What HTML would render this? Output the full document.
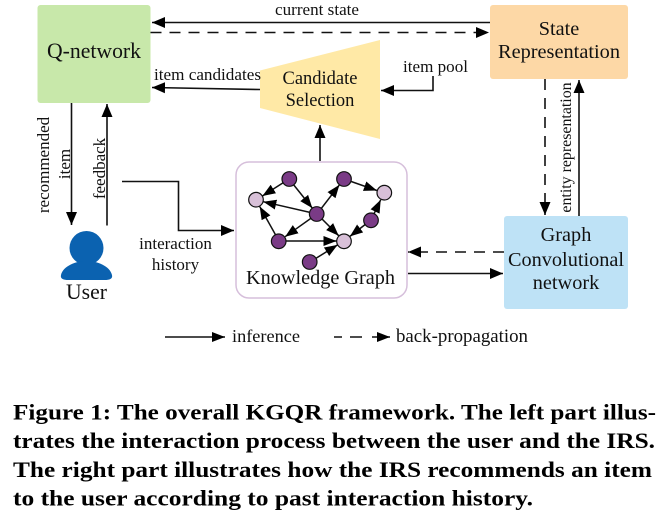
<!DOCTYPE html>
<html><head><meta charset="utf-8">
<style>
html,body{margin:0;padding:0;background:#fff;width:662px;height:518px;overflow:hidden}
svg{display:block}
text{font-family:"Liberation Serif",serif;fill:#111}
.c{text-anchor:middle}
.l{stroke:#111;stroke-width:1.6;fill:none}
.d{stroke:#111;stroke-width:1.6;fill:none;stroke-dasharray:11 8}
.k{stroke:#111;stroke-width:1.5;fill:none}
.cap{font-weight:bold;font-size:22px;fill:#000}
</style></head><body>
<svg width="662" height="518" viewBox="0 0 662 518" xmlns="http://www.w3.org/2000/svg">
<defs>
<marker id="a" markerUnits="userSpaceOnUse" markerWidth="14" markerHeight="12" refX="13" refY="6" orient="auto"><path d="M0 .5L13 6L0 11.5z" fill="#000"/></marker>
<marker id="s" markerUnits="userSpaceOnUse" markerWidth="14" markerHeight="12" refX="13" refY="5.500" orient="auto"><path d="M0 .5L13 5.500L0 10.500z" fill="#000"/></marker>
</defs>

<rect x="37.5" y="5" width="113" height="98" rx="3" fill="#c8e8aa"/>
<rect x="490" y="5" width="138" height="74" rx="3" fill="#fdd8a6"/>
<rect x="504" y="216" width="124" height="93" rx="3" fill="#bee2f6"/>
<rect x="236" y="162" width="171" height="136" rx="13" fill="#fff" stroke="#d6bfdb" stroke-width="1.5"/>
<polygon points="260,70.5 380,40 380,139 260,108" fill="#ffe9a6"/>

<path class="l" d="M490 22.5H152" marker-end="url(#a)"/>
<path class="d" d="M150.500 32.500H489" marker-end="url(#a)"/>
<path class="l" d="M260 89.500L152 87.500" marker-end="url(#a)"/>
<path class="l" d="M433 76V90.500H381" marker-end="url(#a)"/>
<path class="l" d="M320 161V125" marker-end="url(#a)"/>
<path class="l" d="M71.500 103V225" marker-end="url(#a)"/>
<path class="l" d="M107 225.500V104" marker-end="url(#a)"/>
<path class="l" d="M122 181.500H178.500V230.500H234" marker-end="url(#a)"/>
<path class="d" d="M504 252H408" marker-end="url(#a)"/>
<path class="l" d="M408 273.500H503" marker-end="url(#a)"/>
<path class="d" d="M545 79V215" marker-end="url(#a)"/>
<path class="l" d="M579 216V80" marker-end="url(#a)"/>
<path class="l" d="M165 337H225" marker-end="url(#s)"/>
<path class="l" d="M334 337H342M350 337H362M372 337H390" marker-end="url(#s)"/>

<g class="k">
<path d="M289 179L262.400 196" marker-end="url(#s)"/>
<path d="M289 179L312.300 208.100" marker-end="url(#s)"/>
<path d="M317 214L263.300 201.700" marker-end="url(#s)"/>
<path d="M317 214L339.400 184.900" marker-end="url(#s)"/>
<path d="M317 214L285.100 236.700" marker-end="url(#s)"/>
<path d="M317 214L338.700 235.700" marker-end="url(#s)"/>
<path d="M279 241L259.700 206.500" marker-end="url(#s)"/>
<path d="M279 241L336.500 241" marker-end="url(#s)"/>
<path d="M344 179L376.900 190.500" marker-end="url(#s)"/>
<path d="M371 220L380.700 199.800" marker-end="url(#s)"/>
<path d="M371 220L349.900 236.400" marker-end="url(#s)"/>
<path d="M310 262L337.600 244.900" marker-end="url(#s)"/>
</g>
<g stroke="#111" stroke-width="1.2">
<circle cx="289.300" cy="179" r="7.300" fill="#7a3b86"/>
<circle cx="344" cy="179" r="7.300" fill="#7a3b86"/>
<circle cx="316.700" cy="214" r="7.300" fill="#7a3b86"/>
<circle cx="371" cy="220.300" r="7.300" fill="#7a3b86"/>
<circle cx="278.700" cy="241.300" r="7.300" fill="#7a3b86"/>
<circle cx="309.700" cy="262" r="7.300" fill="#7a3b86"/>
<circle cx="256" cy="199.700" r="7.300" fill="#d8c0d8"/>
<circle cx="384.300" cy="192.700" r="7.300" fill="#d8c0d8"/>
<circle cx="344" cy="241.300" r="7.300" fill="#d8c0d8"/>
</g>

<circle cx="86.500" cy="248" r="17" fill="#0b62b0"/>
<path d="M61 275C63 266 76 261 86.500 261C97 261 110 266 112 275C113 279 109 280 105 280H68C64 280 60 279 61 275z" fill="#0b62b0"/>

<text x="47" y="58" font-size="21.700" textLength="94" lengthAdjust="spacingAndGlyphs">Q-network</text>
<text class="c" x="559" y="35" font-size="20.300">State</text>
<text x="498" y="58" font-size="20.300" textLength="122" lengthAdjust="spacingAndGlyphs">Representation</text>
<text class="c" x="320" y="84" font-size="18.500">Candidate</text>
<text class="c" x="320" y="106" font-size="18.500">Selection</text>
<text x="275" y="15" font-size="17" textLength="84" lengthAdjust="spacingAndGlyphs">current state</text>
<text x="154" y="80" font-size="17" textLength="107" lengthAdjust="spacingAndGlyphs">item candidates</text>
<text x="403" y="72" font-size="17" textLength="65" lengthAdjust="spacingAndGlyphs">item pool</text>
<text class="c" x="175.500" y="249" font-size="17">interaction</text>
<text class="c" x="175.500" y="270" font-size="17">history</text>
<text x="66" y="299" font-size="21.700" textLength="41" lengthAdjust="spacingAndGlyphs">User</text>
<text x="246" y="284" font-size="20.200" textLength="149" lengthAdjust="spacingAndGlyphs">Knowledge Graph</text>
<text class="c" x="566" y="241" font-size="20.300">Graph</text>
<text x="508" y="266" font-size="20.300" textLength="116" lengthAdjust="spacingAndGlyphs">Convolutional</text>
<text class="c" x="566" y="289" font-size="20.300">network</text>
<text class="c" transform="translate(49 165) rotate(-90)" font-size="17">recommended</text>
<text class="c" transform="translate(70 164) rotate(-90)" font-size="17">item</text>
<text class="c" transform="translate(105 168.500) rotate(-90)" font-size="17">feedback</text>
<text class="c" transform="translate(571 147.500) rotate(-90)" font-size="15.900">entity representation</text>
<text x="232" y="342" font-size="18.300" textLength="68" lengthAdjust="spacingAndGlyphs">inference</text>
<text x="396" y="342" font-size="18.800" textLength="132" lengthAdjust="spacingAndGlyphs">back-propagation</text>

<text class="cap" x="13" y="419.500" textLength="643" lengthAdjust="spacingAndGlyphs">Figure 1: The overall KGQR framework. The left part illus-</text>
<text class="cap" x="13" y="448" textLength="642" lengthAdjust="spacingAndGlyphs">trates the interaction process between the user and the IRS.</text>
<text class="cap" x="13" y="477" textLength="639" lengthAdjust="spacingAndGlyphs">The right part illustrates how the IRS recommends an item</text>
<text class="cap" x="13" y="505.500" textLength="520" lengthAdjust="spacingAndGlyphs">to the user according to past interaction history.</text>
</svg>
</body></html>
